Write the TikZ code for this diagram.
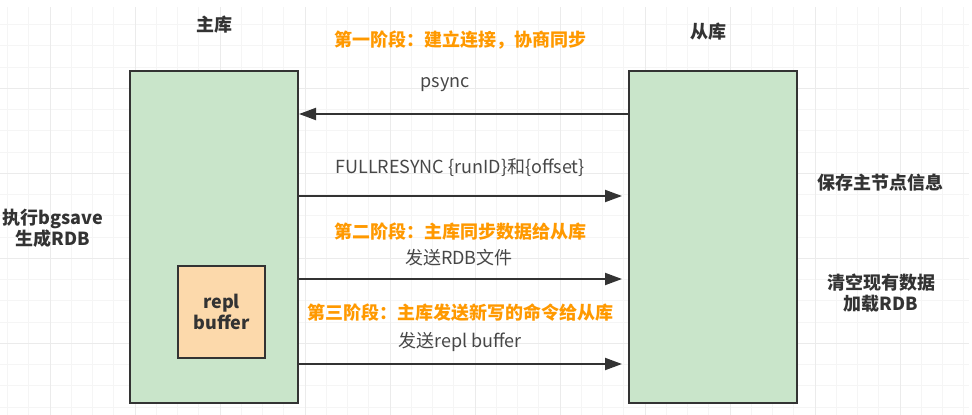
\documentclass[tikz,border=0pt]{standalone}
\usepackage{fontspec}
\setmainfont{Noto Sans CJK SC}
\usetikzlibrary{arrows.meta}
\definecolor{dbgreen}{HTML}{C9E5CA}
\definecolor{bufpeach}{HTML}{FCD9AB}
\definecolor{edgegray}{HTML}{333333}
\definecolor{phaseorange}{HTML}{FF9900}
\definecolor{gridminor}{HTML}{F5F5F5}
\definecolor{gridmajor}{HTML}{EBEBEB}

\begin{document}
\begin{tikzpicture}[x=1pt, y=-1pt,
    db/.style={draw=edgegray, line width=2pt, fill=dbgreen, minimum width=168pt, minimum height=332pt, inner sep=0pt},
    bufbox/.style={draw=edgegray, line width=2pt, fill=bufpeach, minimum width=87pt, minimum height=92pt, inner sep=0pt, align=center, font=\bfseries\fontsize{18pt}{21pt}\selectfont, text=edgegray},
    title/.style={font=\bfseries\fontsize{18pt}{21pt}\selectfont, text=edgegray, align=center},
    phase/.style={font=\bfseries\fontsize{18pt}{21pt}\selectfont, text=phaseorange},
    msgtext/.style={font=\fontsize{18pt}{21pt}\selectfont, text=edgegray!90},
    msg/.style={draw=edgegray, line width=2pt, -{Triangle[length=17pt, width=12pt]}}]
    %%%%% START %%%%%
    \useasboundingbox (0,0) rectangle (972,415);
    
    % background grid
    \foreach \k in {0,...,45}
        \draw[gridminor, line width=1pt] ({7.5+21.25*\k},7) -- ({7.5+21.25*\k},415);
    \foreach \k in {1,...,19}
        \draw[gridminor, line width=1pt] (0,{3.3+21.25*\k}) -- (969,{3.3+21.25*\k});
    \foreach \k in {0,...,10}
        \draw[gridmajor, line width=1pt] ({50+85*\k},7) -- ({50+85*\k},415);
    \foreach \k in {1,...,4}
        \draw[gridmajor, line width=1pt] (0,{3.3+85*\k}) -- (969,{3.3+85*\k});
    
    \node[db] (master) at (214, 237) {};
    \node[db] (slave) at (713, 237) {};
    \node[bufbox] (buffer) at (221.5, 312) {repl\\buffer};
    
    \node[title] (mastertitle) at (214, 25) {主库};
    \node[title] (slavetitle) at (708, 32) {从库};
    
    \node[title] (bgsave) at (53, 228) {执行bgsave\\生成RDB};
    \node[title] (saveinfo) at (880, 183) {保存主节点信息};
    \node[title] (loadrdb) at (881, 293) {清空现有数据\\加载RDB};
    
    \node[phase] (phaseone) at (460, 40) {第一阶段：建立连接，协商同步};
    \node[phase] (phasetwo) at (460, 232) {第二阶段：主库同步数据给从库};
    \node[phase] (phasethree) at (460, 313) {第三阶段：主库发送新写的命令给从库};
    
    \node[msgtext] (psync) at (445, 85) {psync};
    \node[msgtext] (fullresync) at (460, 168) {FULLRESYNC \{runID\}和\{offset\}};
    \node[msgtext] (sendrdb) at (459, 258) {发送RDB文件};
    \node[msgtext] (sendbuf) at (460, 342) {发送repl buffer};
    
    \draw[msg] ([yshift=-44pt]slave.north west) -- ([yshift=-44pt]master.north east);
    \draw[msg, shorten >=6pt] ([yshift=-126pt]master.north east) -- ([yshift=-126pt]slave.north west);
    \draw[msg, shorten >=6pt] ([yshift=-209pt]master.north east) -- ([yshift=-209pt]slave.north west);
    \draw[msg, shorten >=6pt] ([yshift=-294pt]master.north east) -- ([yshift=-294pt]slave.north west);
    %%%%% END %%%%%
\end{tikzpicture}
\end{document}
